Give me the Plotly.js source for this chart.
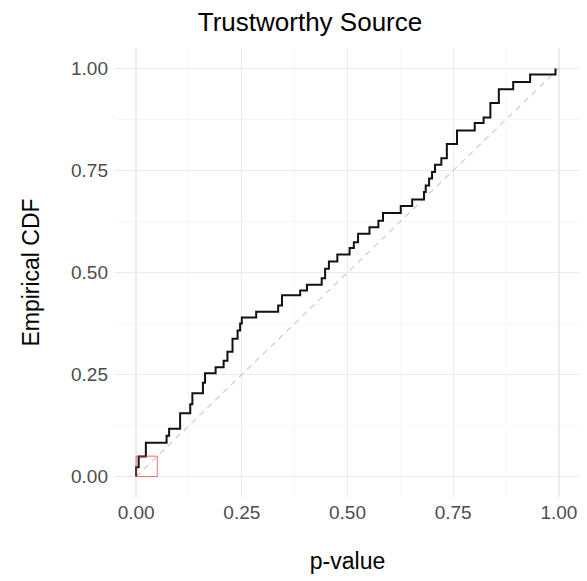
<!DOCTYPE html>
<html>
<head>
<meta charset="utf-8">
<script src="https://cdn.plot.ly/plotly-3.0.1.min.js"></script>
<style>html,body{margin:0;padding:0;background:#fff;}#chart{width:587px;height:581px;}</style>
</head>
<body>
<div id="chart"></div>
<script>
// Step locations (p-values) and empirical CDF value after each step
const pValues = [0.000, 0.000, 0.006, 0.023, 0.072, 0.078, 0.104, 0.128, 0.133, 0.158, 0.163, 0.188, 0.207, 0.216, 0.228, 0.240, 0.246, 0.250, 0.284, 0.336, 0.345, 0.388, 0.404, 0.439, 0.447, 0.456, 0.476, 0.505, 0.515, 0.525, 0.552, 0.573, 0.584, 0.626, 0.653, 0.681, 0.685, 0.693, 0.700, 0.707, 0.722, 0.735, 0.759, 0.801, 0.822, 0.838, 0.858, 0.892, 0.932, 0.992];
const ecdfValues = [0.000, 0.023, 0.049, 0.083, 0.100, 0.117, 0.155, 0.177, 0.204, 0.230, 0.253, 0.268, 0.284, 0.306, 0.338, 0.358, 0.375, 0.390, 0.404, 0.419, 0.444, 0.456, 0.470, 0.486, 0.509, 0.527, 0.544, 0.560, 0.574, 0.595, 0.611, 0.627, 0.646, 0.663, 0.679, 0.697, 0.713, 0.730, 0.746, 0.764, 0.780, 0.815, 0.848, 0.866, 0.880, 0.915, 0.949, 0.967, 0.985, 1.000];
const refLineX = [0, 1];
const refLineY = [0, 1];
const boxX = [0, 0.05, 0.05, 0, 0];
const boxY = [0, 0, 0.05, 0.05, 0];
const tickVals = [0, 0.25, 0.5, 0.75, 1];
const tickText = ["0.00", "0.25", "0.50", "0.75", "1.00"];

const font = "Liberation Sans, Arial, Helvetica, sans-serif";

const traces = [
  {x: refLineX, y: refLineY, mode: 'lines', line: {color: '#C9C9C9', width: 1.1, dash: '6px,5px'}, hoverinfo: 'skip'},
  {x: pValues, y: ecdfValues, mode: 'lines', line: {color: '#111111', width: 2, shape: 'hv'}},
  {x: boxX, y: boxY, mode: 'lines', line: {color: 'rgba(240,60,60,0.75)', width: 1}}
];

const axisCommon = {
  range: [-0.05, 1.05],
  tickvals: tickVals,
  ticktext: tickText,
  showgrid: true,
  gridcolor: '#EBEBEB',
  gridwidth: 1.3,
  zeroline: false,
  showline: false,
  ticks: '',
  tickfont: {family: font, size: 19, color: '#4D4D4D'},
  minor: {tick0: 0.125, dtick: 0.25, showgrid: true, gridcolor: '#F3F3F3', gridwidth: 0.7},
  automargin: false,
  fixedrange: true
};

const layout = {
  width: 587, height: 581,
  margin: {l: 115, r: 7, t: 48, b: 84},
  paper_bgcolor: '#ffffff', plot_bgcolor: '#ffffff',
  showlegend: false,
  title: {text: 'Trustworthy Source', font: {family: font, size: 26, color: '#000'}, x: 310/587, xanchor: 'center', xref: 'container', y: 1 - 22/581, yanchor: 'middle', yref: 'container'},
  xaxis: Object.assign({}, axisCommon, {
    title: {text: 'p-value', font: {family: font, size: 23, color: '#000'}, standoff: 30},
    ticklabelstandoff: 2
  }),
  yaxis: Object.assign({}, axisCommon, {
    title: {text: 'Empirical CDF', font: {family: font, size: 23, color: '#000'}, standoff: 24},
    ticklabelstandoff: 6
  })
};

Plotly.newPlot('chart', traces, layout, {displayModeBar: false, staticPlot: true});
</script>
</body>
</html>
